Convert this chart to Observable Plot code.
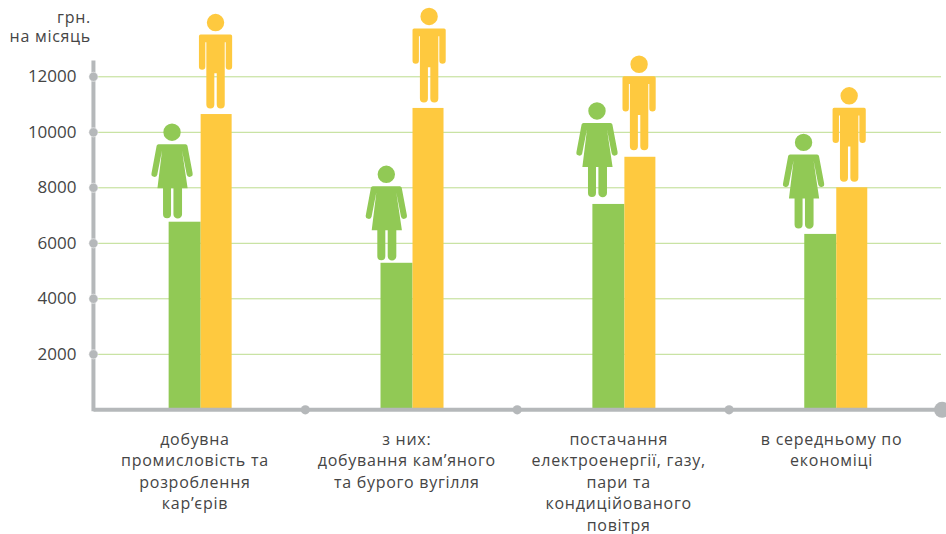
<!DOCTYPE html>
<html lang="uk">
<head>
<meta charset="utf-8">
<script src="https://cdn.jsdelivr.net/npm/d3@7"></script>
<script src="https://cdn.jsdelivr.net/npm/@observablehq/plot@0.6"></script>
<style>
  html, body { margin: 0; padding: 0; background: #fff; }
  svg { display: block; }
  svg g[aria-label="text"] { letter-spacing: 0.72px; }
</style>
</head>
<body>
<div id="chart"></div>
<script>
// Середня заробітна плата за статтю, грн на місяць
const categories = [
  "добувна\nпромисловість та\nрозроблення\nкар’єрів",
  "з них:\nдобування кам’яного\nта бурого вугілля",
  "постачання\nелектроенергії, газу,\nпари та\nкондиційованого\nповітря",
  "в середньому по\nекономіці"
];
const womenPay = [6760, 5280, 7400, 6320];
const menPay = [10640, 10860, 9100, 8000];
const yTicks = [2000, 4000, 6000, 8000, 10000, 12000];
const unitLabel = "грн.\nна місяць";

const GREEN = "#91c955";
const YELLOW = "#fec93f";
const GREY = "#b5b8ba";
const GRID = "#bcdc8e";
const INK = "#454545";
const FONT = "'Open Sans', 'Noto Sans', sans-serif";

// Піктограми: початок координат лежить на верхньому краї стовпчика
const manIcon = {
  draw(c) {
    c.moveTo(8.7, -92);
    c.arc(0, -92, 8.7, 0, 2 * Math.PI);
    c.closePath();
    c.moveTo(-15, -80);
    c.lineTo(15, -80);
    c.quadraticCurveTo(16.6, -80, 16.6, -78.4);
    c.lineTo(16.6, -48);
    c.arc(13.4, -48, 3.2, 0, Math.PI);
    c.lineTo(10.2, -72.3);
    c.lineTo(9.2, -72.3);
    c.lineTo(9.2, -10);
    c.arc(5.2, -10, 4, 0, Math.PI);
    c.lineTo(1.2, -41.3);
    c.lineTo(-1.2, -41.3);
    c.lineTo(-1.2, -10);
    c.arc(-5.2, -10, 4, 0, Math.PI);
    c.lineTo(-9.2, -72.3);
    c.lineTo(-10.2, -72.3);
    c.lineTo(-10.2, -48);
    c.arc(-13.4, -48, 3.2, 0, Math.PI);
    c.lineTo(-16.6, -78.4);
    c.quadraticCurveTo(-16.6, -80, -15, -80);
    c.closePath();
  }
};

const womanIcon = {
  draw(c) {
    c.moveTo(8.7, -90);
    c.arc(0, -90, 8.7, 0, 2 * Math.PI);
    c.closePath();
    c.moveTo(-13.5, -78);
    c.lineTo(13.5, -78);
    c.quadraticCurveTo(15, -78, 15.4, -76.5);
    c.lineTo(20.6, -49);
    c.arc(17.6, -48.4, 3, -0.2, Math.PI - 0.2);
    c.lineTo(10, -71.8);
    c.lineTo(15.6, -34);
    c.lineTo(10, -34);
    c.lineTo(10, -8);
    c.arc(5.7, -8, 4.3, 0, Math.PI);
    c.lineTo(1.4, -34);
    c.lineTo(-1, -34);
    c.lineTo(-1, -8);
    c.arc(-5, -8, 4, 0, Math.PI);
    c.lineTo(-9, -34);
    c.lineTo(-14.6, -34);
    c.lineTo(-10, -71.8);
    c.lineTo(-14.6, -48.4);
    c.arc(-17.6, -48.4, 3, 0.2, Math.PI + 0.2);
    c.lineTo(-15.4, -76.5);
    c.quadraticCurveTo(-15, -78, -13.5, -78);
    c.closePath();
  }
};

// Зсуви піктограм відносно центру групи стовпчиків
const womanShift = [-27.9, -25.5, -26.7, -32];
const womanLift = [0, 1, -3.5, -2];
const manShift = [15.6, 17.3, 15.4, 13.6];
const manLift = [0, 0, -1, 0];

const labelShift = [-5, -5, -5, -4];
const bandWidth = 211.875;

const chart = Plot.plot({
  width: 946,
  height: 534,
  marginLeft: 93.5,
  marginRight: 5,
  marginTop: 76.3,
  marginBottom: 124.7,
  style: { fontFamily: FONT, background: "#fff", overflow: "hidden" },
  x: { domain: categories, padding: 0, round: false, axis: null },
  y: { domain: [0, 12000], label: null, axis: null },
  marks: [
    Plot.ruleY(yTicks, { stroke: GRID, strokeWidth: 1 }),

    Plot.barY(categories, {
      x: d => d,
      y: (d, i) => womenPay[i],
      fill: GREEN,
      dx: -14.8,
      insetLeft: (bandWidth - 32) / 2,
      insetRight: (bandWidth - 32) / 2
    }),
    Plot.barY(categories, {
      x: d => d,
      y: (d, i) => menPay[i],
      fill: YELLOW,
      dx: 16.7,
      insetLeft: (bandWidth - 31) / 2,
      insetRight: (bandWidth - 31) / 2
    }),

    // Осі
    Plot.ruleX([categories[0]], {
      x: d => d, y1: 0, y2: 12500,
      dx: -106.5, stroke: GREY, strokeWidth: 4, strokeLinecap: "square"
    }),
    Plot.ruleY([0], { stroke: GREY, strokeWidth: 4 }),
    Plot.dot(yTicks, {
      x: () => categories[0], y: d => d,
      dx: -106.5, r: 4.6, fill: GREY, stroke: "#fff", strokeOpacity: 0.5, strokeWidth: 1
    }),
    Plot.dot(categories.slice(0, 3), {
      x: d => d, y: () => 0, dx: 105.4, r: 4.6, fill: GREY
    }),
    Plot.dot(categories.slice(3), {
      x: d => d, y: () => 0, dx: 106.5, r: 8, fill: GREY
    }),

    // Жіноча та чоловіча фігури над стовпчиками
    ...categories.map((c, i) => Plot.dot([c], {
      x: d => d, y: () => womenPay[i], dx: womanShift[i], dy: womanLift[i],
      symbol: womanIcon, fill: GREEN, stroke: "none"
    })),
    ...categories.map((c, i) => Plot.dot([c], {
      x: d => d, y: () => menPay[i], dx: manShift[i], dy: manLift[i],
      symbol: manIcon, fill: YELLOW, stroke: "none"
    })),

    // Підписи
    Plot.axisY(yTicks, {
      anchor: "left",
      tickSize: 0,
      tickPadding: 17.5,
      fontSize: 17,
      fill: INK,
      label: null,
      tickFormat: d => String(d)
    }),
    ...categories.map((c, i) => Plot.text([c], {
      x: d => d,
      y: () => 0,
      text: d => d,
      dx: labelShift[i],
      dy: 19.5,
      lineAnchor: "top",
      lineHeight: 1.345,
      fontSize: 16,
      fill: INK
    })),
    Plot.text([unitLabel], {
      frameAnchor: "top-left",
      textAnchor: "end",
      lineAnchor: "top",
      dx: -3,
      dy: -67,
      lineHeight: 1.19,
      fontSize: 16,
      fill: INK
    })
  ]
});

document.getElementById("chart").appendChild(chart);
</script>
</body>
</html>
